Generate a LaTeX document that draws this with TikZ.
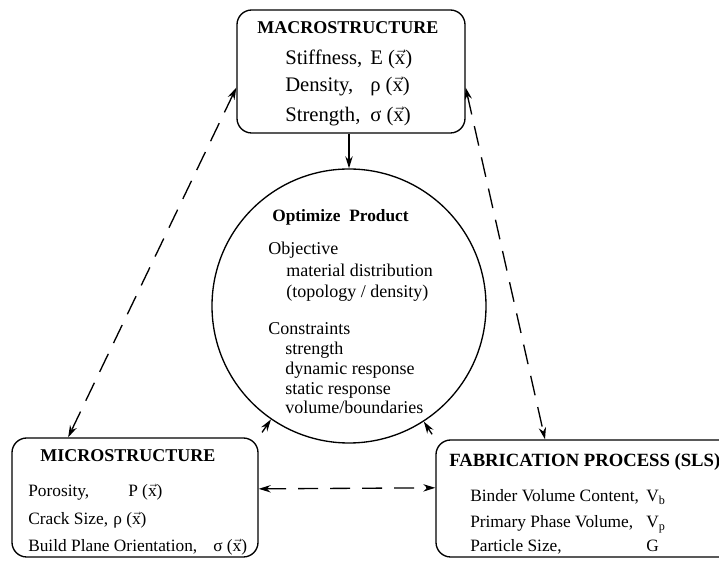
\documentclass[tikz,border=0pt]{standalone}
\usepackage{fontspec}
\setmainfont{Liberation Serif}
\usetikzlibrary{arrows.meta}

\newcommand{\vx}{$\vec{\mbox{x}}$}

\begin{document}
\begin{tikzpicture}[x=0.75pt,y=0.75pt,yscale=-1,xscale=1,
  roundbox/.style={draw, line width=1pt, rounded corners=11pt, inner sep=0pt},
  txt/.style={anchor=base west, inner sep=0pt},
  solidarrow/.style={line width=1pt, -{Stealth[length=9pt,width=5.5pt]}},
  dasharrow/.style={line width=1pt, dash pattern=on 15pt off 9pt, {Stealth[length=9pt,width=5.5pt]}-{Stealth[length=9pt,width=5.5pt]}}]
\clip (0,0) rectangle (719,566);

%Shape: Rounded Rect
\node [roundbox, minimum width=171pt, minimum height=92.25pt] (macro) at (351,71.5) {};
%Shape: Rounded Rect
\node [roundbox, minimum width=184.5pt, minimum height=89.25pt] (micro) at (135,497.5) {};
%Shape: Rounded Rect
\node [roundbox, minimum width=228pt, minimum height=87.75pt] (fab) at (588,498.5) {};
%Shape: Circle
\node [draw, circle, line width=1pt, minimum size=205.5pt, inner sep=0pt] (opt) at (349,306) {};

%Straight Lines
\draw [solidarrow] (opt.north |- macro.south) -- (opt.north) ;
\draw [solidarrow, shorten <=4.5pt] (micro.north east) -- (opt) ;
\draw [solidarrow, shorten <=4.5pt] (fab.north west) -- (opt) ;
%Dashed Lines
\draw [dasharrow] (macro.188) -- (micro.138) ;
\draw [dasharrow] (macro.352) -- (fab.126) ;
\draw [dasharrow] (micro.4) -- (fab.176) ;

% Text Node
\node [anchor=base, inner sep=0pt, font=\fontsize{13.5}{16}\selectfont\bfseries] (macrotitle) at (348,34) {MACROSTRUCTURE};
% Text Node
\node [txt, font=\fontsize{15.5}{18}\selectfont] (stiff) at (285,65) {Stiffness,};
\node [txt, font=\fontsize{15.5}{18}\selectfont] (stiffval) at (370,65) {E (\vx)};
% Text Node
\node [txt, font=\fontsize{15.5}{18}\selectfont] (dens) at (285,92) {Density,};
\node [txt, font=\fontsize{15.5}{18}\selectfont] (densval) at (370,92) {ρ (\vx)};
% Text Node
\node [txt, font=\fontsize{15.5}{18}\selectfont] (stren) at (285,122) {Strength,};
\node [txt, font=\fontsize{15.5}{18}\selectfont] (strenval) at (370,122) {σ (\vx)};

% Text Node
\node [txt, font=\fontsize{13}{16}\selectfont\bfseries] (opttitle) at (272,222) {Optimize\ \ Product};
% Text Node
\node [txt, font=\fontsize{13.5}{16}\selectfont] (objective) at (268,255) {Objective};
\node [txt, font=\fontsize{13.5}{16}\selectfont] (matdist) at (286,277) {material distribution};
\node [txt, font=\fontsize{13.5}{16}\selectfont] (topo) at (286,298) {(topology / density)};
% Text Node
\node [txt, font=\fontsize{13.5}{16}\selectfont] (constr) at (268,335) {Constraints};
\node [txt, font=\fontsize{13.5}{16}\selectfont] (strength) at (285,355) {strength};
\node [txt, font=\fontsize{13.5}{16}\selectfont] (dynresp) at (285,375) {dynamic response};
\node [txt, font=\fontsize{13.5}{16}\selectfont] (statresp) at (285,395) {static response};
\node [txt, font=\fontsize{13.5}{16}\selectfont] (volbound) at (285,414) {volume/boundaries};

% Text Node
\node [txt, font=\fontsize{13.5}{16}\selectfont\bfseries] (microtitle) at (40,462) {MICROSTRUCTURE};
% Text Node
\node [txt, font=\fontsize{13}{16}\selectfont] (poro) at (28,497) {Porosity,};
\node [txt, font=\fontsize{13}{16}\selectfont] (poroval) at (128,497) {P (\vx)};
% Text Node
\node [txt, font=\fontsize{13}{16}\selectfont] (crack) at (28,525) {Crack Size,};
\node [txt, font=\fontsize{13}{16}\selectfont] (crackval) at (113,525) {ρ (\vx)};
% Text Node
\node [txt, font=\fontsize{13}{16}\selectfont] (build) at (28,552) {Build Plane Orientation,};
\node [txt, font=\fontsize{13}{16}\selectfont] (buildval) at (213,552) {σ (\vx)};

% Text Node
\node [txt, font=\fontsize{14}{16}\selectfont\bfseries] (fabtitle) at (449,467) {FABRICATION PROCESS (SLS)};
% Text Node
\node [txt, font=\fontsize{13}{15}\selectfont] (binder) at (470,502) {Binder Volume Content,};
\node [txt, font=\fontsize{13}{15}\selectfont] (binderval) at (646,502) {V\textsubscript{b}};
% Text Node
\node [txt, font=\fontsize{13}{15}\selectfont] (phase) at (470,528) {Primary Phase Volume,};
\node [txt, font=\fontsize{13}{15}\selectfont] (phaseval) at (646,528) {V\textsubscript{p}};
% Text Node
\node [txt, font=\fontsize{13}{15}\selectfont] (partic) at (470,552) {Particle Size,};
\node [txt, font=\fontsize{13}{15}\selectfont] (particval) at (646,552) {G};

\end{tikzpicture}
\end{document}
